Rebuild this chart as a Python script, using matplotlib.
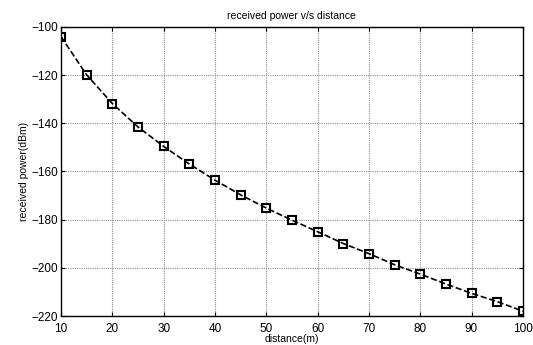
import matplotlib
matplotlib.use("Agg")
import matplotlib.pyplot as plt

distance = [10, 15, 20, 25, 30, 35, 40, 45, 50, 55, 60, 65, 70, 75, 80, 85, 90, 95, 100]
power = [-104.0, -119.9, -131.8, -141.5, -149.6, -156.9, -163.6, -169.7, -175.2,
         -180.2, -185.0, -189.9, -194.1, -198.7, -202.6, -206.7, -210.6, -214.0, -218.0]
xticks = [10, 20, 30, 40, 50, 60, 70, 80, 90, 100]
yticks = [-220, -200, -180, -160, -140, -120, -100]

plt.rcParams['font.family'] = ['Liberation Sans', 'DejaVu Sans']
fig = plt.figure(figsize=(5.33, 3.45), dpi=100)
ax = fig.add_axes([0.1144, 0.084, 0.8666, 0.838])
ax.plot(distance, power, linestyle='--', color='black', linewidth=1.2,
        marker='s', markersize=6, markerfacecolor='none', markeredgecolor='black',
        markeredgewidth=1.5)
ax.set_xlim(10, 100)
ax.set_ylim(-220, -100)
ax.set_xticks(xticks)
ax.set_yticks(yticks)
ax.grid(True, linestyle=(0, (1, 1)), color='#909090', linewidth=0.8)
ax.tick_params(direction='in', top=True, right=True, labelsize=8.5, length=3)
ax.tick_params(axis='x', pad=5)
ax.tick_params(axis='y', pad=2)
for s in ax.spines.values():
    s.set_linewidth(1.0)
ax.set_title('received power v/s distance', fontsize=7.5, pad=6)
ax.set_xlabel('distance(m)', fontsize=7.5, labelpad=-1)
ax.set_ylabel('received power(dBm)', fontsize=7.5, labelpad=2)
fig.savefig('out.png', dpi=100)
